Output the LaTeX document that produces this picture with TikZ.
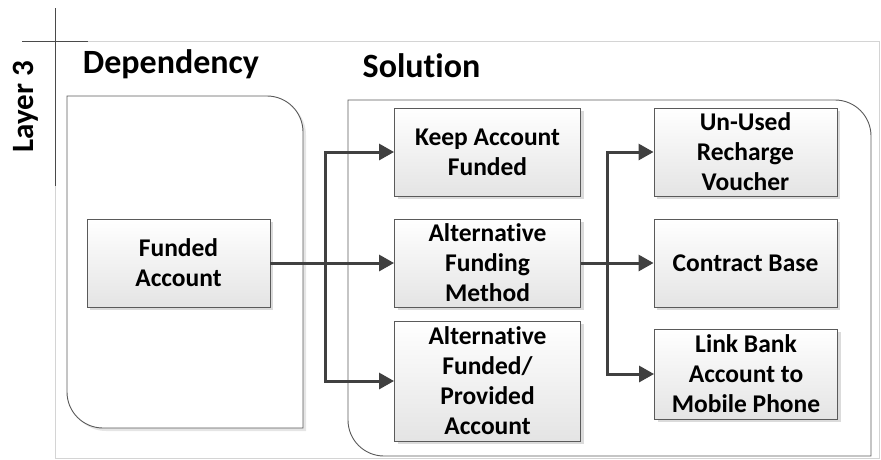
\documentclass[tikz,border=0pt]{standalone}
\usepackage{fontspec}
\setmainfont{Carlito}[RawFeature={-liga}]
\usetikzlibrary{arrows.meta,shadows}
\definecolor{conncol}{HTML}{404040}
\definecolor{boxedge}{HTML}{5A5A5A}
\definecolor{boxfill}{HTML}{E4E4E4}
\definecolor{framecol}{HTML}{D4D4D4}
\definecolor{axiscol}{HTML}{4A4A4A}
\begin{document}
\begin{tikzpicture}[x=1pt,y=-1pt,
  blk/.style={draw=boxedge, line width=0.9pt, top color=white, bottom color=boxfill,
    minimum width=186pt, minimum height=88pt, align=center, inner sep=2pt,
    font=\bfseries\fontsize{25.5}{30}\selectfont,
    drop shadow={shadow xshift=3pt, shadow yshift=-3pt, fill=black!14, opacity=1}},
  conn/.style={draw=conncol, line width=3pt, -{Triangle[length=15pt,width=16pt]}},
  lane/.style={draw=boxedge, line width=0.9pt},
  title/.style={font=\bfseries\fontsize{34}{40}\selectfont, inner sep=0pt, anchor=base}
]
\useasboundingbox (0,0) rectangle (881,459);

% light frame of the layer
\draw[framecol, line width=0.8pt] (55,41) -- (879,41) -- (879,458) -- (55,458) -- cycle;
% dark header cross
\draw[axiscol, line width=0.9pt] (22,41) -- (88,41);
\draw[axiscol, line width=0.9pt] (55,8) -- (55,186);

% layer label
\node[title, font=\bfseries\fontsize{31}{36}\selectfont, rotate=90] (layer) at (33,106.5) {Layer 3};

% lanes
\fill[black!10] (70,99) -- (270,99) .. controls (289.9,99) and (306,115.1) .. (306,135) -- (306,431) -- (106,431) .. controls (86.1,431) and (70,414.9) .. (70,395) -- cycle;
\draw[lane, fill=white] (67,96) -- (267,96) .. controls (286.9,96) and (303,112.1) .. (303,132) -- (303,428) -- (103,428) .. controls (83.1,428) and (67,411.9) .. (67,392) -- cycle;
\draw[lane] (348,100) -- (835,100) .. controls (854.9,100) and (871,116.1) .. (871,136) -- (871,456) -- (384,456) .. controls (364.1,456) and (348,439.9) .. (348,420) -- cycle;

\node[title] (dep) at (171,73) {Dependency};
\node[title] (sol) at (421.5,77) {Solution};

% boxes
\node[blk, minimum width=183pt] (fund) at (178.5,263) {Funded\\Account};
\node[blk] (keep) at (487.5,152) {Keep Account\\Funded};
\node[blk] (meth) at (487.5,263) {Alternative\\Funding\\Method};
\node[blk, minimum height=120pt] (prov) at (487.5,381) {Alternative\\Funded/\\Provided\\Account};
\node[blk, minimum width=183pt] (vouch) at (745.5,152) {Un-Used\\Recharge\\Voucher};
\node[blk, minimum width=183pt] (contract) at (745.5,263) {Contract Base};
\node[blk, minimum width=183pt, minimum height=90pt] (link) at (746,374) {Link Bank\\Account to\\Mobile Phone};

% connectors
\coordinate (j1) at (325,263);
\coordinate (j2) at (607,263);
\draw[conn] (fund.east) -- (meth.west);
\draw[conn] (j1) |- (keep.west);
\draw[conn] (j1) |- (prov.west);
\draw[conn] (meth.east) -- (contract.west);
\draw[conn] (j2) |- (vouch.west);
\draw[conn] (j2) |- (link.west);
\end{tikzpicture}
\end{document}
